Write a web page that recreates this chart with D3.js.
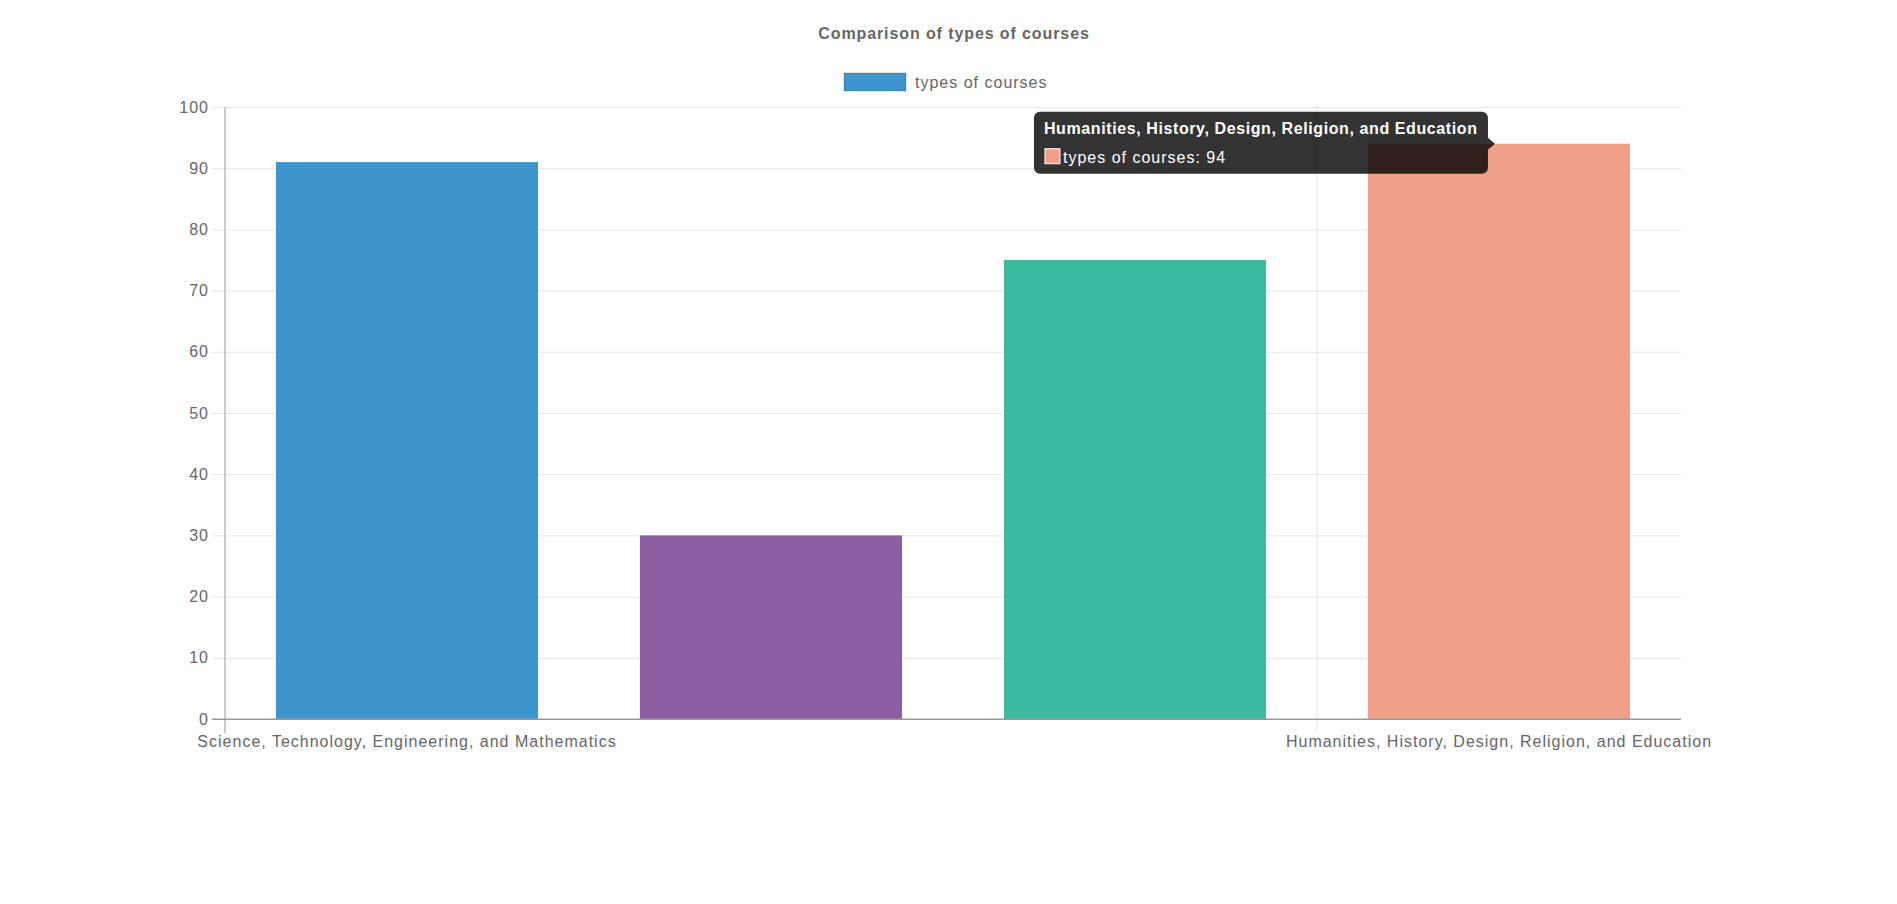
<!DOCTYPE html>
<html lang="en">
<head>
    <meta charset="UTF-8">
    <script src="https://d3js.org/d3.v7.min.js"></script>
    <title>Comparison of types of courses</title>
    <style>
        body{
            margin: 0;
            background-color: #ffffff;
        }
        svg text{
            font-family: "Liberation Sans", Arial, Helvetica, sans-serif;
            letter-spacing: 1px;
        }
    </style>
</head>
<body>
    <div id="chart"></div>
<script>
// data
const categories = [
  "Science, Technology, Engineering, and Mathematics",
  "Business, Economics, and Law",
  "Arts, Languages, and Social Sciences",
  "Humanities, History, Design, Religion, and Education"
];
const values = [91, 30, 75, 94];
const colors = ["#3e95cd", "#8e5ea2", "#3cba9f", "#f09f88"];
const yTicks = [0, 10, 20, 30, 40, 50, 60, 70, 80, 90, 100];
const shownLabels = [0, 3];      // labels left after auto skip
const seriesName = "types of courses";
const hovered = 3;               // bar the tooltip is showing

const svg = d3.select("#chart").append("svg").attr("width", 1897).attr("height", 904);
const margin = { top: 107, bottom: 185, left: 225, right: 216 };
const width = 1897 - margin.left - margin.right;
const height = 904 - margin.top - margin.bottom;
const chart = svg.append("g").attr("transform", `translate(${margin.left},${margin.top})`);

// scales
const xScale = d3.scaleBand().domain(categories).range([0, width]).padding(0);
const yScale = d3.scaleLinear().domain([0, 100]).range([height, 0]);

// title and legend
svg.append("text").attr("x", 954).attr("y", 39).attr("text-anchor", "middle")
   .attr("font-size", 16).attr("font-weight", "bold").attr("fill", "#666")
   .style("letter-spacing", "0.9px").text("Comparison of types of courses");
svg.append("rect").attr("x", 844).attr("y", 73).attr("width", 62).attr("height", 18)
   .attr("fill", colors[0]).attr("stroke", "rgba(0,0,0,0.1)").attr("stroke-width", 2);
svg.append("text").attr("x", 915).attr("y", 88).attr("font-size", 16).attr("fill", "#666").text(seriesName);

// y grid + axis
const yAxis = chart.append("g").call(d3.axisLeft(yScale).tickValues(yTicks).tickSize(-width).tickPadding(16));
yAxis.select(".domain").remove();
yAxis.selectAll(".tick line").attr("x1", -13).attr("stroke", d => d === 0 ? "#999" : "rgba(0,0,0,0.1)");
yAxis.selectAll(".tick text").attr("font-size", 16).attr("fill", "#666").attr("font-family", null);

// vertical grid lines at the shown category ticks
const xGrid = chart.append("g");
xGrid.selectAll("line").data(shownLabels).join("line")
    .attr("x1", i => xScale(categories[i])).attr("x2", i => xScale(categories[i]))
    .attr("y1", 0).attr("y2", height + 14)
    .attr("stroke", i => i === 0 ? "#999" : "rgba(0,0,0,0.1)");

// bars
const barWidth = xScale.bandwidth() * 0.72;
chart.selectAll(".bar").data(values).join("rect").attr("class", "bar")
    .attr("x", (d, i) => xScale(categories[i]) + (xScale.bandwidth() - barWidth) / 2)
    .attr("width", barWidth)
    .attr("y", d => yScale(d))
    .attr("height", d => height - yScale(d))
    .attr("fill", (d, i) => colors[i]);

// zero line on top of bars
chart.append("line").attr("x1", -13).attr("x2", width).attr("y1", height).attr("y2", height).attr("stroke", "#999");

// x labels
chart.selectAll(".xlabel").data(shownLabels).join("text").attr("class", "xlabel")
    .attr("x", i => xScale(categories[i]) + xScale.bandwidth() / 2)
    .attr("y", height + 28).attr("text-anchor", "middle")
    .attr("font-size", 16).attr("fill", "#666")
    .text(i => categories[i]);

// tooltip, caret points at the hovered bar top
const tipX = xScale(categories[hovered]) + (xScale.bandwidth() - barWidth) / 2 + 127;
const tipY = yScale(values[hovered]) + margin.top;
const tip = svg.append("g").attr("transform", `translate(${margin.left + tipX},${tipY})`);
tip.append("rect").attr("x", -461).attr("y", -32).attr("width", 454).attr("height", 62).attr("rx", 6)
   .attr("fill", "rgba(0,0,0,0.8)");
tip.append("path").attr("d", "M-7,-6L0,0L-7,6Z").attr("fill", "rgba(0,0,0,0.8)");
tip.append("text").attr("x", -451).attr("y", -10).attr("font-size", 16).attr("font-weight", "bold")
   .style("letter-spacing", "0.6px").attr("fill", "#fff").text(categories[hovered]);
tip.append("rect").attr("x", -450).attr("y", 5).attr("width", 15).attr("height", 15)
   .attr("fill", colors[hovered]).attr("stroke", "#fff").attr("stroke-width", 1);
tip.append("text").attr("x", -432).attr("y", 19).attr("font-size", 16).attr("fill", "#fff")
   .text(`${seriesName}: ${values[hovered]}`);
</script>
</body>
</html>
